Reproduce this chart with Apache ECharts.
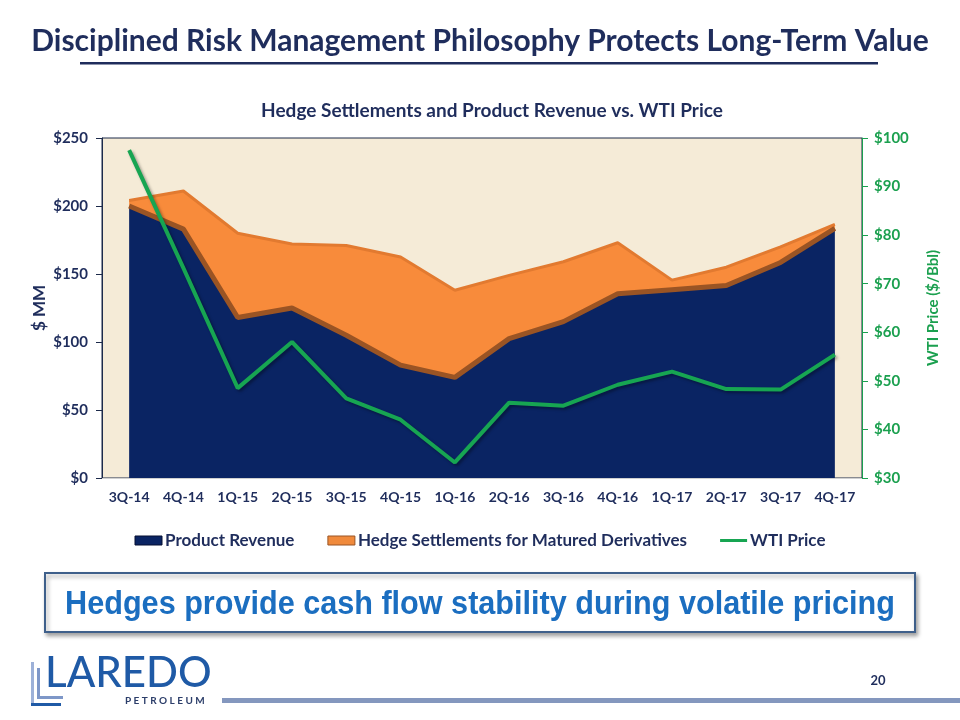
<!DOCTYPE html>
<html>
<head>
<meta charset="utf-8">
<script src="https://cdn.jsdelivr.net/npm/echarts@6/dist/echarts.min.js"></script>
<style>html,body{margin:0;padding:0;background:#fff;}#c{width:960px;height:720px;}</style>
</head>
<body>
<div id="c"></div>
<script>
var categories = ['3Q-14','4Q-14','1Q-15','2Q-15','3Q-15','4Q-15','1Q-16','2Q-16','3Q-16','4Q-16','1Q-17','2Q-17','3Q-17','4Q-17'];
var productRevenue = [200, 183, 118, 125, 105, 83, 74, 102.5, 115, 135.5, 138.5, 141.5, 158.5, 183.5];
var hedgeSettlements = [4, 28, 62, 47, 66, 79.5, 64, 46.5, 44, 37.5, 7, 13.5, 11.5, 3];
var wtiPrice = [97.5, 73.2, 48.5, 58.0, 46.4, 42.0, 33.2, 45.5, 44.9, 49.2, 51.9, 48.3, 48.2, 55.4];
var leftTicks = {min: 0, max: 250, interval: 50};
var rightTicks = {min: 30, max: 100, interval: 10};

var NAVY = '#1F2D5C';
var CAL = 'Lato, "Open Sans", sans-serif';
var ARIAL = '"Liberation Sans", Arial, sans-serif';

var chart = echarts.init(document.getElementById('c'));
chart.setOption({
  backgroundColor: '#ffffff',
  animation: false,
  title: [{
    text: 'Disciplined Risk Management Philosophy Protects Long-Term Value',
    left: 'center', top: 21,
    textStyle: {fontFamily: CAL, fontWeight: 'bold', fontSize: 30, color: NAVY}
  }, {
    text: 'Hedge Settlements and Product Revenue vs. WTI Price',
    left: 487, textAlign: 'center', top: 96,
    textStyle: {fontFamily: CAL, fontWeight: 'bold', fontSize: 19, color: NAVY}
  }],
  grid: {
    left: 102, right: 98, top: 138, bottom: 242,
    show: true, backgroundColor: '#F5EBD7', borderColor: '#1c2a4a', borderWidth: 1
  },
  legend: {
    top: 527, left: 'center',
    itemGap: 33, itemWidth: 27, itemHeight: 9,
    textStyle: {fontFamily: CAL, fontWeight: 'bold', fontSize: 17, color: NAVY, padding: [0,0,0,-2]},
    data: [
      {name: 'Product Revenue', icon: 'rect', itemStyle: {color: '#0A2463', borderColor: '#050f33', borderWidth: 1}},
      {name: 'Hedge Settlements for Matured Derivatives', icon: 'rect', itemStyle: {color: '#F08A3C', borderColor: '#9A5424', borderWidth: 1}},
      {name: 'WTI Price', icon: 'path://M0,3 L27,3 L27,6 L0,6 Z M0,0 L0.01,0 L0.01,0.01 Z M0,9 L0.01,9 L0.01,8.99 Z', itemStyle: {color: '#17A552', borderWidth: 0}}
    ]
  },
  xAxis: {
    type: 'category', data: categories, boundaryGap: true,
    axisLine: {lineStyle: {color: '#d0d0d0', width: 1}},
    axisTick: {show: false},
    axisLabel: {fontFamily: CAL, fontWeight: 'bold', fontSize: 14, color: NAVY, margin: 12}
  },
  yAxis: [{
    type: 'value', min: leftTicks.min, max: leftTicks.max, interval: leftTicks.interval,
    name: '$ MM', nameLocation: 'middle', nameGap: 54, nameRotate: 90, nameMoveOverlap: false,
    nameTextStyle: {fontFamily: CAL, fontWeight: 'bold', fontSize: 17, color: NAVY},
    axisLine: {show: true, lineStyle: {color: '#1c2a4a', width: 1}},
    axisTick: {show: true, length: 6, lineStyle: {color: '#1c2a4a'}},
    splitLine: {show: false},
    axisLabel: {formatter: '${value}', fontFamily: CAL, fontWeight: 'bold', fontSize: 15, color: NAVY, margin: 14}
  }, {
    type: 'value', min: rightTicks.min, max: rightTicks.max, interval: rightTicks.interval, position: 'right',
    name: 'WTI Price ($/Bbl)', nameLocation: 'middle', nameGap: 64, nameRotate: 90,
    nameTextStyle: {fontFamily: CAL, fontWeight: 'bold', fontSize: 15, color: '#1BA04F'},
    axisLine: {show: true, lineStyle: {color: '#1BA04F', width: 1}},
    axisTick: {show: true, length: 6, lineStyle: {color: '#1BA04F'}},
    splitLine: {show: false},
    axisLabel: {formatter: '${value}', fontFamily: CAL, fontWeight: 'bold', fontSize: 15, color: '#1BA04F', margin: 12}
  }],
  series: [{
    name: 'Product Revenue', type: 'line', stack: 'rev', data: productRevenue,
    symbol: 'none', yAxisIndex: 0, z: 2,
    lineStyle: {color: '#9A5424', width: 5},
    itemStyle: {color: '#0A2463'},
    areaStyle: {color: '#0A2463', opacity: 1}
  }, {
    name: 'Hedge Settlements for Matured Derivatives', type: 'line', stack: 'rev', data: hedgeSettlements,
    symbol: 'none', yAxisIndex: 0, z: 1,
    lineStyle: {color: '#E27A30', width: 3},
    itemStyle: {color: '#F08A3C'},
    areaStyle: {color: '#F88B3B', opacity: 1}
  }, {
    name: 'WTI Price', type: 'line', data: wtiPrice, yAxisIndex: 1,
    symbol: 'none', z: 5,
    lineStyle: {color: '#17A552', width: 4, shadowColor: 'rgba(0,0,0,0.35)', shadowBlur: 3, shadowOffsetX: 2, shadowOffsetY: 2},
    itemStyle: {color: '#17A552'}
  }],
  graphic: [
    {type: 'rect', shape: {x: 80, y: 62, width: 798, height: 2.5}, style: {fill: NAVY}},
    {type: 'rect', shape: {x: 45, y: 573, width: 870, height: 59}, style: {fill: '#ffffff', stroke: '#3E5F8A', lineWidth: 2, shadowColor: 'rgba(0,0,0,0.35)', shadowBlur: 4, shadowOffsetX: 2, shadowOffsetY: 3}},
    {type: 'text', x: 480, y: 605, scaleX: 0.9, style: {text: 'Hedges provide cash flow stability during volatile pricing', x: 0, y: 0, textAlign: 'center', textVerticalAlign: 'middle', font: 'bold 34px ' + ARIAL, fill: '#1B6EC0'}},
    {type: 'rect', shape: {x: 31, y: 662, width: 3, height: 44}, style: {fill: '#9DB1D8'}},
    {type: 'rect', shape: {x: 31, y: 703, width: 30, height: 3}, style: {fill: '#1F5AA6'}},
    {type: 'rect', shape: {x: 37, y: 668, width: 3, height: 30}, style: {fill: '#7E97C8'}},
    {type: 'rect', shape: {x: 37, y: 696, width: 26, height: 3}, style: {fill: '#7E97C8'}},
    {type: 'text', style: {text: 'LAREDO', x: 45, y: 673, textVerticalAlign: 'middle', font: '500 42px Lato, sans-serif', fill: '#1F5AA6'}},
    {type: 'text', style: {text: 'P E T R O L E U M', x: 125, y: 701, textVerticalAlign: 'middle', font: 'bold 10px Lato, sans-serif', fill: '#2c3e6a'}},
    {type: 'rect', shape: {x: 222, y: 698, width: 738, height: 5}, style: {fill: '#8497BE'}},
    {type: 'text', style: {text: '20', x: 878, y: 681, textAlign: 'center', textVerticalAlign: 'middle', font: 'bold 13px ' + CAL, fill: NAVY}}
  ]
});
</script>
</body>
</html>
